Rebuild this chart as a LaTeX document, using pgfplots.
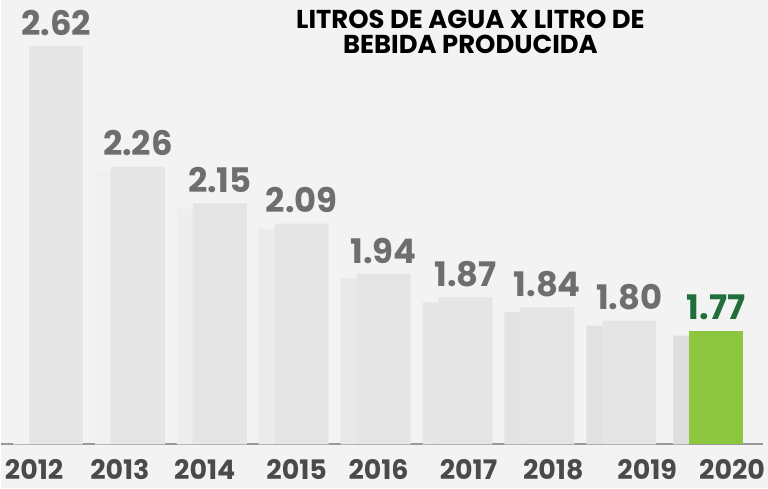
\documentclass[border=0pt]{standalone}
\usepackage{fontspec}
\setmainfont{Poppins}
\usepackage{pgfplots}
\pgfplotsset{compat=1.18}
\definecolor{bg}{HTML}{F3F3F3}
\definecolor{barg}{HTML}{E5E5E5}
\definecolor{valg}{HTML}{6E6E6E}
\definecolor{yearg}{HTML}{4A4A4A}
\definecolor{gbar}{HTML}{8CC63E}
\definecolor{gval}{HTML}{1F6E3B}
\begin{document}
\begin{tikzpicture}
\fill[bg] (0,0) rectangle (384bp,244.5bp);
\begin{axis}[
  at={(0bp,22bp)}, anchor=south west,
  scale only axis, width=381.5bp, height=222.5bp,
  xmin=-0.6707, xmax=8.634, ymin=1.43, ymax=2.758,
  clip=false,
  hide y axis,
  axis x line*=bottom,
  x axis line style={-, draw=gray!80, line width=1.1bp},
  xtick={-0.268,0.780,1.817,2.939,3.939,5.037,6.073,7.220,8.256},
  xticklabels={2012,2013,2014,2015,2016,2017,2018,2019,2020},
  major tick length=0pt,
  xticklabel style={font=\fontsize{13.5}{13.5}\selectfont\bfseries, text=yearg, anchor=north, inner sep=0pt, yshift=-7.5bp},
  /pgf/number format/assume math mode=true,
  ybar, bar width=27bp,
  nodes near coords={\pgfmathprintnumber[fixed,fixed zerofill,precision=2]{\pgfplotspointmeta}},
  nodes near coords style={font=\fontsize{17}{17}\selectfont\bfseries, anchor=south, inner sep=0pt, yshift=5bp},
]
% shadows
\addplot[draw=none, bar shift=-17.5bp, bar width=8bp, left color=bg, right color=black!13, nodes near coords={}] coordinates {
(0,2.605) (1,2.245) (2,2.135) (3,2.075) (4,1.925) (5,1.855) (6,1.825) (7,1.785) (8.06,1.755)};
% gray bars
\addplot[draw=none, fill=barg, bar shift=0pt, nodes near coords style={text=valg}] coordinates {
(0,2.62) (1,2.26) (2,2.15) (3,2.09) (4,1.94) (5,1.87) (6,1.84) (7,1.80)};
% 2020 green bar
\addplot[draw=none, fill=gbar, bar shift=0pt, nodes near coords style={text=gval}] coordinates {
(8.06,1.77)};
\end{axis}
\node[font=\fontsize{13}{13}\selectfont\bfseries, align=center, text=black] at (235bp,228.5bp) {LITROS DE AGUA X LITRO DE\\BEBIDA PRODUCIDA};
\end{tikzpicture}
\end{document}
